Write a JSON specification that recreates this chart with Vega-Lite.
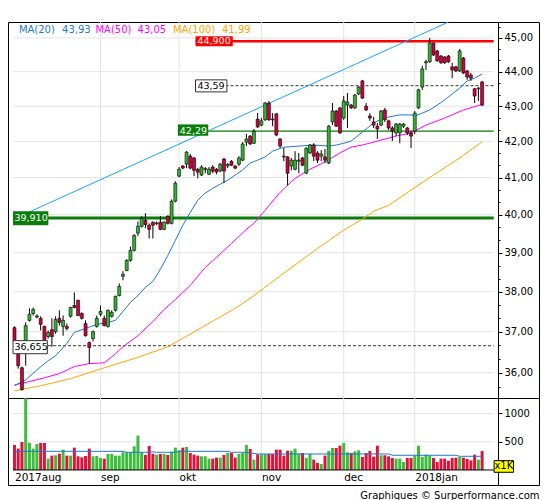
{
"$schema":"https://vega.github.io/schema/vega-lite/v6.json",
"background":"white",
"padding":{"left":7,"top":19,"right":5,"bottom":2},
"spacing":0,
"bounds":"flush",
"title":{"text":"Graphiques © Surperformance.com","orient":"bottom","anchor":"end","font":"DejaVu Sans","fontSize":10,"fontWeight":"normal","color":"#000","baseline":"alphabetic","offset":13},
"config":{"view":{"stroke":"#000","strokeWidth":1},"axis":{"labelFont":"DejaVu Sans","labelFontSize":10,"labelColor":"#000","domainColor":"#000","tickColor":"#000"},"text":{"font":"DejaVu Sans"}},
"resolve":{"scale":{"x":"independent","y":"independent"}},
"datasets":{
"k":[
{"i":0,"o":37.10,"h":37.13,"l":36.73,"c":36.76,"v":443},
{"i":1,"o":36.66,"h":36.68,"l":36.10,"c":36.17,"v":378},
{"i":2,"o":36.12,"h":36.15,"l":35.57,"c":35.60,"v":496},
{"i":3,"o":36.78,"h":37.23,"l":36.17,"c":37.15,"v":1270},
{"i":4,"o":37.28,"h":37.58,"l":37.25,"c":37.43,"v":478},
{"i":5,"o":37.45,"h":37.60,"l":37.40,"c":37.55,"v":378},
{"i":6,"o":37.36,"h":37.43,"l":37.33,"c":37.39,"v":460},
{"i":7,"o":37.33,"h":37.38,"l":37.03,"c":37.18,"v":478},
{"i":8,"o":37.13,"h":37.15,"l":36.77,"c":36.78,"v":478},
{"i":9,"o":36.88,"h":37.03,"l":36.83,"c":36.98,"v":200},
{"i":10,"o":37.05,"h":37.33,"l":36.63,"c":36.88,"v":254},
{"i":11,"o":37.00,"h":37.38,"l":36.95,"c":37.30,"v":260},
{"i":12,"o":37.33,"h":37.53,"l":37.15,"c":37.23,"v":289},
{"i":13,"o":37.13,"h":37.40,"l":36.90,"c":37.28,"v":360},
{"i":14,"o":37.13,"h":37.20,"l":37.03,"c":37.08,"v":254},
{"i":15,"o":37.38,"h":37.62,"l":37.35,"c":37.60,"v":254},
{"i":16,"o":37.65,"h":37.98,"l":37.58,"c":37.60,"v":395},
{"i":17,"o":37.78,"h":37.80,"l":37.38,"c":37.40,"v":242},
{"i":18,"o":37.45,"h":37.48,"l":37.30,"c":37.33,"v":224},
{"i":19,"o":37.20,"h":37.28,"l":36.88,"c":36.90,"v":248},
{"i":20,"o":36.73,"h":36.76,"l":36.22,"c":36.61,"v":378},
{"i":21,"o":36.83,"h":37.03,"l":36.76,"c":37.00,"v":242},
{"i":22,"o":37.13,"h":37.40,"l":37.10,"c":37.33,"v":248},
{"i":23,"o":37.43,"h":37.65,"l":37.38,"c":37.50,"v":212},
{"i":24,"o":37.33,"h":37.40,"l":37.13,"c":37.15,"v":200},
{"i":25,"o":37.13,"h":37.55,"l":37.10,"c":37.53,"v":283},
{"i":26,"o":37.38,"h":37.53,"l":37.35,"c":37.48,"v":283},
{"i":27,"o":37.53,"h":37.90,"l":37.50,"c":37.88,"v":254},
{"i":28,"o":37.90,"h":38.21,"l":37.88,"c":38.13,"v":254},
{"i":29,"o":38.39,"h":38.52,"l":38.29,"c":38.44,"v":313},
{"i":30,"o":38.54,"h":38.83,"l":38.52,"c":38.80,"v":313},
{"i":31,"o":38.80,"h":39.16,"l":38.77,"c":39.06,"v":313},
{"i":32,"o":39.06,"h":39.48,"l":39.03,"c":39.45,"v":419},
{"i":33,"o":39.51,"h":39.82,"l":39.43,"c":39.69,"v":608},
{"i":34,"o":39.69,"h":39.96,"l":39.66,"c":39.90,"v":313},
{"i":35,"o":39.85,"h":40.04,"l":39.64,"c":39.74,"v":266},
{"i":36,"o":39.72,"h":39.77,"l":39.37,"c":39.61,"v":425},
{"i":37,"o":39.80,"h":39.82,"l":39.37,"c":39.72,"v":289},
{"i":38,"o":39.76,"h":39.82,"l":39.72,"c":39.78,"v":271},
{"i":39,"o":39.80,"h":39.96,"l":39.59,"c":39.61,"v":283},
{"i":40,"o":39.61,"h":39.82,"l":39.59,"c":39.80,"v":283},
{"i":41,"o":39.96,"h":39.98,"l":39.74,"c":39.77,"v":266},
{"i":42,"o":39.77,"h":40.41,"l":39.74,"c":40.36,"v":325},
{"i":43,"o":40.36,"h":40.90,"l":40.33,"c":40.85,"v":395},
{"i":44,"o":41.04,"h":41.29,"l":41.01,"c":41.23,"v":348},
{"i":45,"o":41.32,"h":41.34,"l":41.23,"c":41.26,"v":395},
{"i":46,"o":41.37,"h":41.73,"l":41.26,"c":41.70,"v":407},
{"i":47,"o":41.59,"h":41.65,"l":41.23,"c":41.26,"v":301},
{"i":48,"o":41.54,"h":41.57,"l":41.04,"c":41.20,"v":271},
{"i":49,"o":41.23,"h":41.26,"l":40.98,"c":41.15,"v":254},
{"i":50,"o":41.07,"h":41.34,"l":41.04,"c":41.29,"v":242},
{"i":51,"o":41.22,"h":41.29,"l":41.12,"c":41.25,"v":242},
{"i":52,"o":41.09,"h":41.29,"l":41.07,"c":41.23,"v":200},
{"i":53,"o":41.29,"h":41.34,"l":41.12,"c":41.18,"v":200},
{"i":54,"o":41.23,"h":41.26,"l":41.09,"c":41.15,"v":218},
{"i":55,"o":41.18,"h":41.40,"l":41.15,"c":41.37,"v":218},
{"i":56,"o":41.51,"h":41.54,"l":40.85,"c":41.18,"v":266},
{"i":57,"o":41.32,"h":41.40,"l":41.26,"c":41.36,"v":301},
{"i":58,"o":41.45,"h":41.48,"l":41.32,"c":41.34,"v":301},
{"i":59,"o":41.32,"h":41.34,"l":41.23,"c":41.26,"v":218},
{"i":60,"o":41.37,"h":41.59,"l":41.32,"c":41.54,"v":283},
{"i":61,"o":41.48,"h":41.98,"l":41.45,"c":41.93,"v":301},
{"i":62,"o":41.98,"h":42.21,"l":41.87,"c":42.07,"v":443},
{"i":63,"o":42.15,"h":42.18,"l":41.90,"c":41.93,"v":372},
{"i":64,"o":41.95,"h":42.35,"l":41.93,"c":42.29,"v":183},
{"i":65,"o":42.63,"h":42.80,"l":42.38,"c":42.41,"v":277},
{"i":66,"o":42.46,"h":42.66,"l":42.43,"c":42.58,"v":277},
{"i":67,"o":42.61,"h":43.12,"l":42.58,"c":43.09,"v":277},
{"i":68,"o":43.09,"h":43.15,"l":42.58,"c":42.61,"v":283},
{"i":69,"o":42.63,"h":42.80,"l":42.43,"c":42.61,"v":283},
{"i":70,"o":42.78,"h":42.80,"l":42.15,"c":42.18,"v":360},
{"i":71,"o":42.07,"h":42.09,"l":41.82,"c":41.87,"v":360},
{"i":72,"o":41.59,"h":41.82,"l":41.45,"c":41.57,"v":254},
{"i":73,"o":41.57,"h":41.59,"l":40.79,"c":41.12,"v":342},
{"i":74,"o":41.32,"h":41.54,"l":41.20,"c":41.48,"v":342},
{"i":75,"o":41.23,"h":41.73,"l":41.20,"c":41.48,"v":378},
{"i":76,"o":41.45,"h":41.68,"l":41.12,"c":41.48,"v":289},
{"i":77,"o":41.54,"h":41.57,"l":41.32,"c":41.34,"v":301},
{"i":78,"o":41.12,"h":41.84,"l":41.10,"c":41.81,"v":212},
{"i":79,"o":41.68,"h":41.93,"l":41.65,"c":41.90,"v":283},
{"i":80,"o":41.90,"h":41.95,"l":41.45,"c":41.59,"v":183},
{"i":81,"o":41.68,"h":41.73,"l":41.40,"c":41.48,"v":124},
{"i":82,"o":41.59,"h":41.76,"l":41.45,"c":41.65,"v":106},
{"i":83,"o":41.57,"h":41.79,"l":41.40,"c":41.48,"v":254},
{"i":84,"o":41.40,"h":42.46,"l":41.37,"c":42.43,"v":336},
{"i":85,"o":42.55,"h":43.09,"l":42.46,"c":42.86,"v":389},
{"i":86,"o":42.86,"h":42.89,"l":42.41,"c":42.43,"v":389},
{"i":87,"o":42.95,"h":42.97,"l":42.21,"c":42.24,"v":431},
{"i":88,"o":42.66,"h":43.29,"l":42.61,"c":43.15,"v":478},
{"i":89,"o":43.03,"h":43.38,"l":42.38,"c":43.12,"v":313},
{"i":90,"o":43.03,"h":43.06,"l":42.92,"c":42.95,"v":301},
{"i":91,"o":42.95,"h":43.35,"l":42.92,"c":43.32,"v":330},
{"i":92,"o":43.35,"h":43.58,"l":43.32,"c":43.55,"v":348},
{"i":93,"o":43.73,"h":43.76,"l":43.21,"c":43.23,"v":230},
{"i":94,"o":43.00,"h":43.09,"l":42.86,"c":42.89,"v":301},
{"i":95,"o":42.72,"h":42.80,"l":42.58,"c":42.66,"v":336},
{"i":96,"o":42.55,"h":42.69,"l":42.38,"c":42.46,"v":236},
{"i":97,"o":42.43,"h":42.52,"l":42.07,"c":42.35,"v":431},
{"i":98,"o":42.46,"h":42.89,"l":42.43,"c":42.86,"v":260},
{"i":99,"o":42.89,"h":42.95,"l":42.55,"c":42.61,"v":260},
{"i":100,"o":42.58,"h":42.61,"l":42.32,"c":42.38,"v":242},
{"i":101,"o":42.38,"h":42.43,"l":42.01,"c":42.29,"v":212},
{"i":102,"o":42.24,"h":42.52,"l":42.15,"c":42.49,"v":201},
{"i":103,"o":42.24,"h":42.52,"l":41.95,"c":42.49,"v":201},
{"i":104,"o":42.43,"h":42.52,"l":42.38,"c":42.49,"v":142},
{"i":105,"o":42.38,"h":42.41,"l":42.18,"c":42.24,"v":212},
{"i":106,"o":42.24,"h":42.30,"l":41.82,"c":42.15,"v":212},
{"i":107,"o":42.29,"h":42.86,"l":42.21,"c":42.80,"v":254},
{"i":108,"o":42.95,"h":43.50,"l":42.92,"c":43.47,"v":431},
{"i":109,"o":43.55,"h":44.17,"l":43.47,"c":44.08,"v":230},
{"i":110,"o":44.26,"h":44.35,"l":44.05,"c":44.29,"v":271},
{"i":111,"o":44.29,"h":45.00,"l":44.26,"c":44.85,"v":254},
{"i":112,"o":44.85,"h":44.88,"l":44.46,"c":44.49,"v":212},
{"i":113,"o":44.61,"h":44.64,"l":44.29,"c":44.32,"v":142},
{"i":114,"o":44.46,"h":44.49,"l":44.23,"c":44.26,"v":201},
{"i":115,"o":44.43,"h":44.46,"l":44.23,"c":44.26,"v":201},
{"i":116,"o":44.46,"h":44.49,"l":44.26,"c":44.29,"v":165},
{"i":117,"o":44.14,"h":44.26,"l":43.81,"c":44.05,"v":212},
{"i":118,"o":44.14,"h":44.17,"l":43.99,"c":44.02,"v":218},
{"i":119,"o":44.02,"h":44.67,"l":43.99,"c":44.61,"v":230},
{"i":120,"o":44.40,"h":44.43,"l":43.93,"c":43.96,"v":218},
{"i":121,"o":44.02,"h":44.05,"l":43.76,"c":43.84,"v":195},
{"i":122,"o":43.90,"h":43.96,"l":43.73,"c":43.81,"v":171},
{"i":123,"o":43.50,"h":43.52,"l":43.09,"c":43.29,"v":271},
{"i":124,"o":43.50,"h":43.55,"l":43.15,"c":43.52,"v":183},
{"i":125,"o":43.70,"h":43.73,"l":43.00,"c":43.03,"v":336}
],
"ma20":[{"i":0,"p":35.69},{"i":3,"p":35.83},{"i":6,"p":36.07},{"i":9,"p":36.29},{"i":11,"p":36.41},{"i":14,"p":36.71},{"i":16,"p":36.98},{"i":19,"p":37.08},{"i":22,"p":37.18},{"i":25,"p":37.23},{"i":27,"p":37.28},{"i":29,"p":37.50},{"i":31,"p":37.73},{"i":33,"p":37.90},{"i":35,"p":38.11},{"i":37,"p":38.26},{"i":39,"p":38.57},{"i":41,"p":38.93},{"i":43,"p":39.32},{"i":45,"p":39.72},{"i":47,"p":40.06},{"i":49,"p":40.39},{"i":51,"p":40.58},{"i":53,"p":40.71},{"i":55,"p":40.82},{"i":57,"p":40.93},{"i":59,"p":41.07},{"i":61,"p":41.21},{"i":63,"p":41.40},{"i":65,"p":41.48},{"i":67,"p":41.57},{"i":69,"p":41.73},{"i":72,"p":41.84},{"i":76,"p":41.87},{"i":80,"p":41.90},{"i":84,"p":41.87},{"i":86,"p":41.90},{"i":88,"p":41.95},{"i":90,"p":42.01},{"i":92,"p":42.18},{"i":94,"p":42.35},{"i":96,"p":42.52},{"i":98,"p":42.63},{"i":100,"p":42.69},{"i":103,"p":42.75},{"i":106,"p":42.75},{"i":107,"p":42.72},{"i":109,"p":42.80},{"i":111,"p":42.89},{"i":113,"p":43.03},{"i":115,"p":43.18},{"i":117,"p":43.35},{"i":119,"p":43.52},{"i":121,"p":43.73},{"i":123,"p":43.81},{"i":125,"p":43.93}],
"ma50":[{"i":0,"p":35.71},{"i":4,"p":35.79},{"i":8,"p":35.88},{"i":12,"p":35.98},{"i":16,"p":36.15},{"i":20,"p":36.22},{"i":24,"p":36.24},{"i":27,"p":36.46},{"i":29,"p":36.63},{"i":33,"p":36.90},{"i":37,"p":37.25},{"i":40,"p":37.55},{"i":43,"p":37.80},{"i":47,"p":38.16},{"i":51,"p":38.62},{"i":54,"p":38.88},{"i":58,"p":39.24},{"i":62,"p":39.61},{"i":64,"p":39.77},{"i":67,"p":40.12},{"i":71,"p":40.60},{"i":75,"p":40.98},{"i":79,"p":41.23},{"i":83,"p":41.43},{"i":87,"p":41.68},{"i":90,"p":41.84},{"i":93,"p":41.90},{"i":97,"p":42.01},{"i":102,"p":42.15},{"i":106,"p":42.24},{"i":110,"p":42.46},{"i":115,"p":42.66},{"i":120,"p":42.89},{"i":125,"p":43.05}],
"ma100":[{"i":0,"p":35.57},{"i":7,"p":35.69},{"i":15,"p":35.86},{"i":24,"p":36.12},{"i":33,"p":36.37},{"i":41,"p":36.63},{"i":50,"p":37.10},{"i":59,"p":37.58},{"i":63,"p":37.83},{"i":72,"p":38.47},{"i":81,"p":39.11},{"i":88,"p":39.59},{"i":93,"p":39.88},{"i":96,"p":40.09},{"i":100,"p":40.25},{"i":106,"p":40.66},{"i":112,"p":41.07},{"i":119,"p":41.54},{"i":125,"p":41.99}],
"vma":[{"i":0,"v":330},{"i":29,"v":330},{"i":30,"v":313},{"i":36,"v":313},{"i":37,"v":322},{"i":38,"v":313},{"i":43,"v":313},{"i":44,"v":330},{"i":57,"v":330},{"i":58,"v":313},{"i":62,"v":313},{"i":63,"v":301},{"i":65,"v":283},{"i":100,"v":283},{"i":101,"v":260},{"i":118,"v":260},{"i":119,"v":242},{"i":125,"v":242}],
"trend":[{"i":-0.393,"p":39.875},{"i":116.0,"p":45.48}],
"months":[{"m":23},{"m":44},{"m":66},{"m":88},{"m":107}]
},
"vconcat":[
{
"width":531,"height":376,
"layer":[
{"data":{"values":[{"p":36},{"p":37},{"p":38},{"p":39},{"p":40},{"p":41},{"p":42},{"p":43},{"p":44},{"p":45}]},
 "mark":{"type":"rule","color":"#E4E4E4","strokeWidth":1},
 "encoding":{
  "y":{"field":"p","type":"quantitative","scale":{"type":"log","domain":[35.4,45.48],"nice":false,"zero":false},
   "axis":{"orient":"right","offset":-41,"values":[35.667,36,36.333,36.667,37,37.333,37.667,38,38.333,38.667,39,39.333,39.667,40,40.333,40.667,41,41.333,41.667,42,42.333,42.667,43,43.333,43.667,44,44.333,44.667,45,45.333],
   "labelExpr":"datum.value % 1 == 0 ? replace(format(datum.value, '.2f'), '.', ',') : ''",
   "tickSize":{"condition":{"test":"datum.value % 1 == 0","value":4},"value":2},
   "labelPadding":2,"labelBaseline":"middle","labelOverlap":false,"grid":false,"domain":true,"ticks":true,"labels":true,"title":null}},
  "x":{"datum":-0.393,"scale":{"domain":[-0.393,138.87],"nice":false,"zero":false},
   "axis":{"labels":false,"ticks":false,"domain":false,"grid":false,"title":null}},
  "x2":{"datum":128.1}}},
{"data":{"name":"months"},"mark":{"type":"rule","color":"#E4E4E4","strokeWidth":1},
 "encoding":{"x":{"field":"m","type":"quantitative"}}},
{"data":{"values":[{"p":39.91}]},"mark":{"type":"rule","color":"#0A7D0A","strokeWidth":3},
 "encoding":{"y":{"field":"p","type":"quantitative"},"x":{"datum":-0.393},"x2":{"datum":128.1}}},
{"data":{"values":[{"p":36.655}]},"mark":{"type":"rule","color":"#333","strokeWidth":1,"strokeDash":[3,2]},
 "encoding":{"y":{"field":"p","type":"quantitative"},"x":{"datum":-0.393},"x2":{"datum":128.1}}},
{"data":{"values":[{"p":42.29}]},"mark":{"type":"rule","color":"#0A7D0A","strokeWidth":1.2},
 "encoding":{"y":{"field":"p","type":"quantitative"},"x":{"datum":43.67},"x2":{"datum":128.1}}},
{"data":{"values":[{"p":43.59}]},"mark":{"type":"rule","color":"#333","strokeWidth":1,"strokeDash":[3,2]},
 "encoding":{"y":{"field":"p","type":"quantitative"},"x":{"datum":48.39},"x2":{"datum":128.1}}},
{"data":{"values":[{"p":44.9}]},"mark":{"type":"rule","color":"#FF0000","strokeWidth":2.5},
 "encoding":{"y":{"field":"p","type":"quantitative"},"x":{"datum":48.39},"x2":{"datum":128.1}}},
{"data":{"name":"ma100"},"mark":{"type":"line","color":"#FFA500","strokeWidth":1},
 "encoding":{"x":{"field":"i","type":"quantitative"},"y":{"field":"p","type":"quantitative"}}},
{"data":{"name":"ma50"},"mark":{"type":"line","color":"#FF00FF","strokeWidth":1},
 "encoding":{"x":{"field":"i","type":"quantitative"},"y":{"field":"p","type":"quantitative"}}},
{"data":{"name":"ma20"},"mark":{"type":"line","color":"#1E78D2","strokeWidth":1},
 "encoding":{"x":{"field":"i","type":"quantitative"},"y":{"field":"p","type":"quantitative"}}},
{"data":{"name":"trend"},"mark":{"type":"line","color":"#14AAF0","strokeWidth":1},
 "encoding":{"x":{"field":"i","type":"quantitative"},"y":{"field":"p","type":"quantitative"}}},
{"data":{"name":"k"},"mark":{"type":"rule","color":"#000","strokeWidth":1},
 "encoding":{"x":{"field":"i","type":"quantitative"},"y":{"field":"l","type":"quantitative"},"y2":{"field":"h"}}},
{"data":{"name":"k"},"mark":{"type":"bar","size":3,"stroke":"#000","strokeWidth":0.6},
 "encoding":{"x":{"field":"i","type":"quantitative"},"y":{"field":"o","type":"quantitative"},"y2":{"field":"c"},
  "color":{"condition":{"test":"datum.c >= datum.o","value":"#33B533"},"value":"#D2003C"}}},
{"data":{"values":[{}]},"mark":{"type":"rect","fill":"#FF0000"},
 "encoding":{"x":{"datum":48.39},"x2":{"datum":58.35},"y":{"datum":44.75},"y2":{"datum":45.05}}},
{"data":{"values":[{}]},"mark":{"type":"text","align":"left","baseline":"middle","color":"#FFFFFF","fontSize":9.5},
 "encoding":{"x":{"datum":48.91},"y":{"datum":44.9},"text":{"value":"44,900"}}},
{"data":{"values":[{}]},"mark":{"type":"rect","fill":"#FFFFFF","stroke":"#333","strokeWidth":1},
 "encoding":{"x":{"datum":48.39},"x2":{"datum":56.78},"y":{"datum":43.41},"y2":{"datum":43.76}}},
{"data":{"values":[{}]},"mark":{"type":"text","align":"left","baseline":"middle","color":"#000","fontSize":9.5},
 "encoding":{"x":{"datum":48.91},"y":{"datum":43.59},"text":{"value":"43,59"}}},
{"data":{"values":[{}]},"mark":{"type":"rect","fill":"#0A7D0A"},
 "encoding":{"x":{"datum":43.67},"x2":{"datum":51.8},"y":{"datum":42.16},"y2":{"datum":42.48}}},
{"data":{"values":[{}]},"mark":{"type":"text","align":"left","baseline":"middle","color":"#FFFFFF","fontSize":9.5},
 "encoding":{"x":{"datum":44.2},"y":{"datum":42.3},"text":{"value":"42,29"}}},
{"data":{"values":[{}]},"mark":{"type":"rect","fill":"#0A7D0A"},
 "encoding":{"x":{"datum":-0.393},"x2":{"datum":9.05},"y":{"datum":39.72},"y2":{"datum":40.09}}},
{"data":{"values":[{}]},"mark":{"type":"text","align":"left","baseline":"middle","color":"#FFFFFF","fontSize":9.5},
 "encoding":{"x":{"datum":0.0},"y":{"datum":39.91},"text":{"value":"39,910"}}},
{"data":{"values":[{}]},"mark":{"type":"rect","fill":"#FFFFFF","stroke":"#333","strokeWidth":1},
 "encoding":{"x":{"datum":-0.393},"x2":{"datum":8.79},"y":{"datum":36.46},"y2":{"datum":36.78}}},
{"data":{"values":[{}]},"mark":{"type":"text","align":"left","baseline":"middle","color":"#000","fontSize":9.5},
 "encoding":{"x":{"datum":0.0},"y":{"datum":36.62},"text":{"value":"36,655"}}},
{"data":{"values":[{}]},"mark":{"type":"text","align":"left","baseline":"middle","color":"#1E78D2","fontSize":10},
 "encoding":{"x":{"datum":1.18},"y":{"datum":45.24},"text":{"value":"MA(20)"}}},
{"data":{"values":[{}]},"mark":{"type":"text","align":"left","baseline":"middle","color":"#1E78D2","fontSize":10},
 "encoding":{"x":{"datum":12.72},"y":{"datum":45.24},"text":{"value":"43,93"}}},
{"data":{"values":[{}]},"mark":{"type":"text","align":"left","baseline":"middle","color":"#FF00FF","fontSize":10},
 "encoding":{"x":{"datum":21.64},"y":{"datum":45.24},"text":{"value":"MA(50)"}}},
{"data":{"values":[{}]},"mark":{"type":"text","align":"left","baseline":"middle","color":"#FF00FF","fontSize":10},
 "encoding":{"x":{"datum":32.91},"y":{"datum":45.24},"text":{"value":"43,05"}}},
{"data":{"values":[{}]},"mark":{"type":"text","align":"left","baseline":"middle","color":"#FFA500","fontSize":10},
 "encoding":{"x":{"datum":42.36},"y":{"datum":45.24},"text":{"value":"MA(100)"}}},
{"data":{"values":[{}]},"mark":{"type":"text","align":"left","baseline":"middle","color":"#FFA500","fontSize":10},
 "encoding":{"x":{"datum":55.47},"y":{"datum":45.24},"text":{"value":"41,99"}}}
]
},
{
"width":531,"height":87,
"layer":[
{"data":{"values":[{"v":500},{"v":1000}]},"mark":{"type":"rule","color":"#E4E4E4","strokeWidth":1},
 "encoding":{
  "y":{"field":"v","type":"quantitative","scale":{"domain":[-266,1274],"nice":false,"zero":false},
   "axis":{"orient":"right","offset":-41,"values":[500,1000],"format":"d","tickSize":4,
   "labelPadding":2,"labelBaseline":"middle","labelOverlap":false,"grid":false,"domain":true,"ticks":true,"labels":true,"title":null}},
  "x":{"datum":-0.393,"scale":{"domain":[-0.393,138.87],"nice":false,"zero":false},
   "axis":{"orient":"bottom","offset":-15,"values":[0,23,44,66,88,107],"domain":false,"ticks":false,"tickSize":0,"grid":false,"labels":true,
   "labelExpr":"datum.value == 0 ? '2017aug' : datum.value == 23 ? 'sep' : datum.value == 44 ? 'okt' : datum.value == 66 ? 'nov' : datum.value == 88 ? 'dec' : '2018jan'",
   "labelAlign":"left","labelBaseline":"alphabetic","labelPadding":10,"labelOffset":0,"labelFontSize":10.5,"labelFlush":false,"labelOverlap":false,"title":null}},
  "x2":{"datum":128.1}}},
{"data":{"name":"months"},"mark":{"type":"rule","color":"#E4E4E4","strokeWidth":1},
 "encoding":{"x":{"field":"m","type":"quantitative"},"y":{"datum":0},"y2":{"datum":1274}}},
{"data":{"name":"k"},"mark":{"type":"bar","size":3},
 "encoding":{"x":{"field":"i","type":"quantitative"},"y":{"field":"v","type":"quantitative"},"y2":{"datum":0},
  "color":{"condition":{"test":"datum.c >= datum.o","value":"#3CBE3C"},"value":"#DC143C"}}},
{"data":{"name":"vma"},"mark":{"type":"line","color":"#1E78D2","strokeWidth":1},
 "encoding":{"x":{"field":"i","type":"quantitative"},"y":{"field":"v","type":"quantitative"}}},
{"data":{"values":[{}]},"mark":{"type":"rule","color":"#000","strokeWidth":1},
 "encoding":{"x":{"datum":-0.393},"x2":{"datum":128.1},"y":{"datum":0}}},
{"data":{"values":[{}]},"mark":{"type":"rect","fill":"#FFFF00","stroke":"#000","strokeWidth":1},
 "encoding":{"x":{"datum":128.2},"x2":{"datum":133.4},"y":{"datum":-41},"y2":{"datum":165}}},
{"data":{"values":[{}]},"mark":{"type":"text","align":"center","baseline":"middle","color":"#000","fontSize":10},
 "encoding":{"x":{"datum":130.8},"y":{"datum":62},"text":{"value":"x1K"}}}
]
}
]
}
